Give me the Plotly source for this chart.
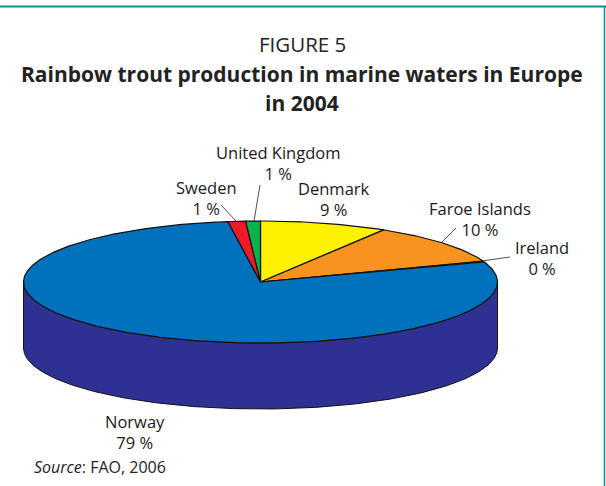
import numpy as np
import plotly.graph_objects as go

categories = ["Denmark", "Faroe Islands", "Ireland", "Norway", "Sweden", "United Kingdom"]
shares = [8.7, 10.7, 0.1, 78.3, 1.2, 1.0]
share_labels = ["9 %", "10 %", "0 %", "79 %", "1 %", "1 %"]
colors = ["#FFF200", "#F7931E", "#0071BC", "#0071BC", "#ED1C24", "#0DB14B"]

TEAL = "#00958F"
CX, CY, RX, RY, DEPTH = 260.5, 282, 237, 61, 66
LABEL_POS = [(334, 199), (480, 219), (542, 258), (135, 432), (206, 198), (278, 163)]


def pt(share_pos):
    a = np.asarray(share_pos) / 100 * 2 * np.pi
    return CX + RX * np.sin(a), CY - RY * np.cos(a)


fig = go.Figure()

# Side wall: the lower half of the rim, extruded downwards
a_side = np.linspace(25, 75, 200)
xs, ys = pt(a_side)
fig.add_trace(go.Scatter(
    x=np.r_[xs, xs[::-1], xs[0]], y=np.r_[ys, ys[::-1] + DEPTH, ys[0]],
    mode="lines", fill="toself", fillcolor="#2E3192",
    line=dict(color="#111", width=1), hoverinfo="skip", showlegend=False))

# Top face wedges, computed from the shares
start = 0.0
for name, s, c in zip(categories, shares, colors):
    xa, ya = pt(np.linspace(start, start + s, max(3, int(s * 6))))
    fig.add_trace(go.Scatter(
        x=np.r_[CX, xa, CX], y=np.r_[CY, ya, CY], name=name,
        mode="lines", fill="toself", fillcolor=c,
        line=dict(color="#111", width=1.2), showlegend=False))
    start += s

# Leader lines
leaders = [((456, 228), (442, 242)), ((510, 257), (482, 261)),
           ((221, 205), (236, 221)), ((260, 185), (254, 221))]
for (x0, y0), (x1, y1) in leaders:
    fig.add_trace(go.Scatter(x=[x0, x1], y=[y0, y1], mode="lines",
                             line=dict(color="#222", width=0.8),
                             hoverinfo="skip", showlegend=False))

# Frame
fig.add_shape(type="line", x0=0, x1=606, y0=6.5, y1=6.5, line=dict(color=TEAL, width=2))
fig.add_shape(type="line", x0=604.5, x1=604.5, y0=6, y1=486, line=dict(color=TEAL, width=1.5))

FONT = "Open Sans"
for name, lab, (x, y) in zip(categories, share_labels, LABEL_POS):
    fig.add_annotation(x=x, y=y, text=f"{name}<br>{lab}", showarrow=False, align="center",
                       font=dict(family=FONT, size=16.5, color="#1a1a1a"))

fig.add_annotation(x=302, y=44, text="FIGURE 5", showarrow=False,
                   font=dict(family=FONT, size=20.5, color="#222"))
fig.add_annotation(x=302, y=74, showarrow=False, text="<b>Rainbow trout production in marine waters in Europe</b>",
                   font=dict(family=FONT, size=21, color="#222"))
fig.add_annotation(x=302, y=103, showarrow=False, text="<b>in 2004</b>",
                   font=dict(family=FONT, size=21, color="#222"))
fig.add_annotation(x=32, y=467, xanchor="left", showarrow=False,
                   text="<i>Source</i>: FAO, 2006",
                   font=dict(family=FONT, size=16, color="#222"))

fig.update_layout(
    width=606, height=486, margin=dict(l=0, r=0, t=0, b=0),
    paper_bgcolor="white", plot_bgcolor="white",
    xaxis=dict(range=[0, 606], visible=False, fixedrange=True),
    yaxis=dict(range=[486, 0], visible=False, fixedrange=True),
)
fig.write_html("out.html", config={"displayModeBar": False},
               post_script="document.body.style.margin='0';document.body.style.overflow='hidden';")
